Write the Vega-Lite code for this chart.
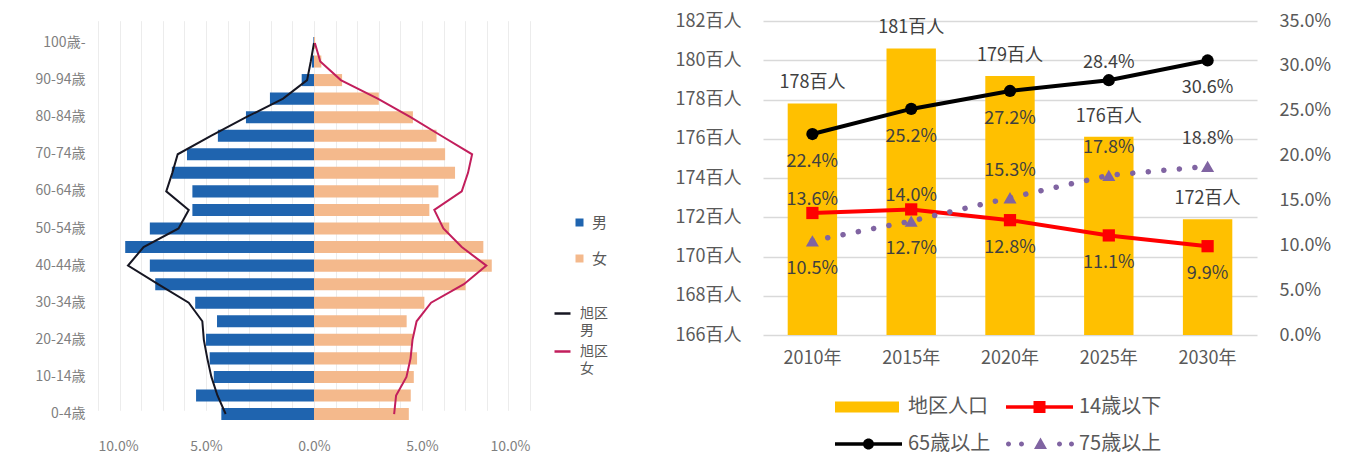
{
  "$schema": "https://vega.github.io/schema/vega-lite/v6.json",
  "background": "white",
  "padding": {"left": 35, "top": 12, "right": 5, "bottom": 5},
  "config": {
    "font": "Noto Sans CJK JP",
    "view": {"stroke": null},
    "axis": {"labelFont": "Noto Sans CJK JP", "domain": false, "ticks": false, "tickSize": 0, "title": null},
    "legend": {"labelFont": "Noto Sans CJK JP", "padding": 0},
    "text": {"font": "Noto Sans CJK JP"},
    "style": {"guide-label": {"lineHeight": 17}}
  },
  "datasets": {
    "pyramid": [
      {"age": "100歳-", "sex": "男", "value": -0.0003}, {"age": "100歳-", "sex": "女", "value": 0.0005},
      {"age": "95-99歳", "sex": "男", "value": -0.001}, {"age": "95-99歳", "sex": "女", "value": 0.0034},
      {"age": "90-94歳", "sex": "男", "value": -0.0057}, {"age": "90-94歳", "sex": "女", "value": 0.013},
      {"age": "85-89歳", "sex": "男", "value": -0.0204}, {"age": "85-89歳", "sex": "女", "value": 0.030},
      {"age": "80-84歳", "sex": "男", "value": -0.0315}, {"age": "80-84歳", "sex": "女", "value": 0.0458},
      {"age": "75-79歳", "sex": "男", "value": -0.0445}, {"age": "75-79歳", "sex": "女", "value": 0.0567},
      {"age": "70-74歳", "sex": "男", "value": -0.0588}, {"age": "70-74歳", "sex": "女", "value": 0.0607},
      {"age": "65-69歳", "sex": "男", "value": -0.0658}, {"age": "65-69歳", "sex": "女", "value": 0.0653},
      {"age": "60-64歳", "sex": "男", "value": -0.0563}, {"age": "60-64歳", "sex": "女", "value": 0.0576},
      {"age": "55-59歳", "sex": "男", "value": -0.0563}, {"age": "55-59歳", "sex": "女", "value": 0.0534},
      {"age": "50-54歳", "sex": "男", "value": -0.076}, {"age": "50-54歳", "sex": "女", "value": 0.0626},
      {"age": "45-49歳", "sex": "男", "value": -0.0874}, {"age": "45-49歳", "sex": "女", "value": 0.0784},
      {"age": "40-44歳", "sex": "男", "value": -0.076}, {"age": "40-44歳", "sex": "女", "value": 0.0823},
      {"age": "35-39歳", "sex": "男", "value": -0.0735}, {"age": "35-39歳", "sex": "女", "value": 0.0702},
      {"age": "30-34歳", "sex": "男", "value": -0.055}, {"age": "30-34歳", "sex": "女", "value": 0.0511},
      {"age": "25-29歳", "sex": "男", "value": -0.0449}, {"age": "25-29歳", "sex": "女", "value": 0.0429},
      {"age": "20-24歳", "sex": "男", "value": -0.050}, {"age": "20-24歳", "sex": "女", "value": 0.0458},
      {"age": "15-19歳", "sex": "男", "value": -0.0483}, {"age": "15-19歳", "sex": "女", "value": 0.0477},
      {"age": "10-14歳", "sex": "男", "value": -0.0464}, {"age": "10-14歳", "sex": "女", "value": 0.0462},
      {"age": "5-9歳", "sex": "男", "value": -0.0546}, {"age": "5-9歳", "sex": "女", "value": 0.0448},
      {"age": "0-4歳", "sex": "男", "value": -0.0429}, {"age": "0-4歳", "sex": "女", "value": 0.0439}
    ],
    "ward": [
      {"age": "100歳-", "sex": "旭区 男", "value": 0.0},
      {"age": "95-99歳", "sex": "旭区 男", "value": -0.0015},
      {"age": "90-94歳", "sex": "旭区 男", "value": -0.0032},
      {"age": "85-89歳", "sex": "旭区 男", "value": -0.0143},
      {"age": "80-84歳", "sex": "旭区 男", "value": -0.0314},
      {"age": "75-79歳", "sex": "旭区 男", "value": -0.0475},
      {"age": "70-74歳", "sex": "旭区 男", "value": -0.0631},
      {"age": "65-69歳", "sex": "旭区 男", "value": -0.0656},
      {"age": "60-64歳", "sex": "旭区 男", "value": -0.0684},
      {"age": "55-59歳", "sex": "旭区 男", "value": -0.058},
      {"age": "50-54歳", "sex": "旭区 男", "value": -0.0627},
      {"age": "45-49歳", "sex": "旭区 男", "value": -0.0789},
      {"age": "40-44歳", "sex": "旭区 男", "value": -0.0861},
      {"age": "35-39歳", "sex": "旭区 男", "value": -0.0722},
      {"age": "30-34歳", "sex": "旭区 男", "value": -0.058},
      {"age": "25-29歳", "sex": "旭区 男", "value": -0.0517},
      {"age": "20-24歳", "sex": "旭区 男", "value": -0.051},
      {"age": "15-19歳", "sex": "旭区 男", "value": -0.0494},
      {"age": "10-14歳", "sex": "旭区 男", "value": -0.0475},
      {"age": "5-9歳", "sex": "旭区 男", "value": -0.0447},
      {"age": "0-4歳", "sex": "旭区 男", "value": -0.0409},
      {"age": "100歳-", "sex": "旭区 女", "value": 0.0004},
      {"age": "95-99歳", "sex": "旭区 女", "value": 0.0029},
      {"age": "90-94歳", "sex": "旭区 女", "value": 0.0124},
      {"age": "85-89歳", "sex": "旭区 女", "value": 0.0295},
      {"age": "80-84歳", "sex": "旭区 女", "value": 0.0447},
      {"age": "75-79歳", "sex": "旭区 女", "value": 0.0589},
      {"age": "70-74歳", "sex": "旭区 女", "value": 0.0732},
      {"age": "65-69歳", "sex": "旭区 女", "value": 0.0713},
      {"age": "60-64歳", "sex": "旭区 女", "value": 0.0684},
      {"age": "55-59歳", "sex": "旭区 女", "value": 0.0557},
      {"age": "50-54歳", "sex": "旭区 女", "value": 0.0599},
      {"age": "45-49歳", "sex": "旭区 女", "value": 0.0684},
      {"age": "40-44歳", "sex": "旭区 女", "value": 0.0798},
      {"age": "35-39歳", "sex": "旭区 女", "value": 0.0694},
      {"age": "30-34歳", "sex": "旭区 女", "value": 0.0542},
      {"age": "25-29歳", "sex": "旭区 女", "value": 0.0475},
      {"age": "20-24歳", "sex": "旭区 女", "value": 0.0456},
      {"age": "15-19歳", "sex": "旭区 女", "value": 0.0447},
      {"age": "10-14歳", "sex": "旭区 女", "value": 0.0428},
      {"age": "5-9歳", "sex": "旭区 女", "value": 0.038},
      {"age": "0-4歳", "sex": "旭区 女", "value": 0.0371}
    ],
    "pop": [
      {"year": "2010年", "pop": 177.8},
      {"year": "2015年", "pop": 180.6},
      {"year": "2020年", "pop": 179.2},
      {"year": "2025年", "pop": 176.1},
      {"year": "2030年", "pop": 171.9}
    ],
    "rates": [
      {"year": "2010年", "series": "14歳以下", "pct": 0.136},
      {"year": "2015年", "series": "14歳以下", "pct": 0.140},
      {"year": "2020年", "series": "14歳以下", "pct": 0.128},
      {"year": "2025年", "series": "14歳以下", "pct": 0.111},
      {"year": "2030年", "series": "14歳以下", "pct": 0.099},
      {"year": "2010年", "series": "65歳以上", "pct": 0.224},
      {"year": "2015年", "series": "65歳以上", "pct": 0.252},
      {"year": "2020年", "series": "65歳以上", "pct": 0.272},
      {"year": "2025年", "series": "65歳以上", "pct": 0.284},
      {"year": "2030年", "series": "65歳以上", "pct": 0.306},
      {"year": "2010年", "series": "75歳以上", "pct": 0.105},
      {"year": "2015年", "series": "75歳以上", "pct": 0.127},
      {"year": "2020年", "series": "75歳以上", "pct": 0.153},
      {"year": "2025年", "series": "75歳以上", "pct": 0.178},
      {"year": "2030年", "series": "75歳以上", "pct": 0.188}
    ],
    "legendItems": [
      {"series": "地区人口"}, {"series": "14歳以下"}, {"series": "65歳以上"}, {"series": "75歳以上"}
    ]
  },
  "bounds": "flush",
  "spacing": 233,
  "resolve": {
    "scale": {"color": "independent", "shape": "independent", "stroke": "independent"},
    "legend": {"color": "independent", "shape": "independent", "stroke": "independent"}
  },
  "hconcat": [
    {
      "width": 432,
      "height": 402,
      "encoding": {
        "y": {
          "field": "age", "type": "nominal", "sort": null,
          "scale": {
            "domain": ["100歳-","95-99歳","90-94歳","85-89歳","80-84歳","75-79歳","70-74歳","65-69歳","60-64歳","55-59歳","50-54歳","45-49歳","40-44歳","35-39歳","30-34歳","25-29歳","20-24歳","15-19歳","10-14歳","5-9歳","0-4歳"],
            "range": [12.7, 402.3], "paddingInner": 0.35, "paddingOuter": 0.175
          },
          "axis": {
            "values": ["100歳-","90-94歳","80-84歳","70-74歳","60-64歳","50-54歳","40-44歳","30-34歳","20-24歳","10-14歳","0-4歳"],
            "grid": false, "labelFontSize": 14, "labelColor": "#7f7f7f", "labelPadding": 13
          }
        },
        "x": {
          "field": "value", "type": "quantitative",
          "scale": {"domain": [-0.1, 0.1], "nice": false},
          "axis": {
            "values": [-0.1,-0.09,-0.08,-0.07,-0.06,-0.05,-0.04,-0.03,-0.02,-0.01,0,0.01,0.02,0.03,0.04,0.05,0.06,0.07,0.08,0.09,0.1],
            "labelExpr": "round(datum.value*100) % 5 == 0 ? format(abs(datum.value), '.1%') : ''",
            "labelOverlap": false, "grid": true, "gridColor": "#ececec", "gridWidth": 1,
            "labelFontSize": 14, "labelColor": "#7f7f7f", "labelPadding": 16
          }
        }
      },
      "layer": [
        {
          "data": {"name": "pyramid"},
          "mark": {"type": "bar"},
          "encoding": {
            "color": {
              "field": "sex", "type": "nominal",
              "scale": {"domain": ["男", "女"], "range": ["#1F64AF", "#F4B98C"]},
              "legend": {
                "orient": "none", "legendX": 474, "legendY": 194, "title": null,
                "symbolType": "square", "symbolSize": 64, "labelOffset": 5,
                "labelFontSize": 15, "labelColor": "#595959", "rowPadding": 20
              }
            }
          }
        },
        {
          "data": {"name": "ward"},
          "mark": {"type": "line", "strokeWidth": 2},
          "encoding": {
            "order": {"value": null},
            "stroke": {
              "field": "sex", "type": "nominal",
              "scale": {"domain": ["旭区 男", "旭区 女"], "range": ["#161622", "#C21E5C"]},
              "legend": {
                "orient": "none", "legendX": 455, "legendY": 283, "title": null,
                "symbolType": "stroke", "symbolSize": 256, "symbolStrokeWidth": 2.5,
                "labelOffset": 8, "labelFontSize": 14, "labelColor": "#595959", "rowPadding": 4,
                "labelBaseline": "middle",
                "labelExpr": "[slice(datum.label, 0, 2), slice(datum.label, 3)]"
              }
            }
          }
        }
      ]
    },
    {
      "width": 494,
      "height": 314,
      "resolve": {"scale": {"y": "independent"}},
      "layer": [
        {
          "data": {"name": "pop"},
          "encoding": {
            "x": {
              "field": "year", "type": "nominal", "sort": null,
              "scale": {"paddingInner": 0.5, "paddingOuter": 0.25},
              "axis": {"labelAngle": 0, "labelFontSize": 18, "labelColor": "#595959", "labelPadding": 14, "grid": false}
            },
            "y": {
              "field": "pop", "type": "quantitative",
              "scale": {"domain": [166, 182], "zero": false, "nice": false},
              "axis": {
                "orient": "left", "values": [166,168,170,172,174,176,178,180,182],
                "labelExpr": "datum.value + '百人'", "grid": true, "gridColor": "#d9d9d9", "gridWidth": 1.5,
                "labelFontSize": 18, "labelColor": "#595959", "labelPadding": 22
              }
            }
          },
          "layer": [
            {"mark": {"type": "bar", "color": "#FFC000", "clip": true}},
            {
              "transform": [{"calculate": "format(datum.pop, '.0f') + '百人'", "as": "label"}],
              "mark": {"type": "text", "dy": -20, "baseline": "middle", "fontSize": 18, "color": "#404040"},
              "encoding": {"text": {"field": "label"}}
            }
          ]
        },
        {
          "data": {"name": "rates"},
          "encoding": {
            "x": {"field": "year", "type": "nominal", "sort": null},
            "y": {
              "field": "pct", "type": "quantitative",
              "scale": {"domain": [0, 0.35], "nice": false},
              "axis": {
                "orient": "right", "values": [0,0.05,0.1,0.15,0.2,0.25,0.3,0.35], "format": ".1%", "grid": false,
                "labelFontSize": 18, "labelColor": "#595959", "labelPadding": 22
              }
            }
          },
          "layer": [
            {"transform": [{"filter": "datum.series == '14歳以下'"}], "mark": {"type": "line", "color": "#FF0000", "strokeWidth": 4}},
            {"transform": [{"filter": "datum.series == '14歳以下'"}], "mark": {"type": "square", "color": "#FF0000", "size": 150, "opacity": 1}},
            {"transform": [{"filter": "datum.series == '65歳以上'"}], "mark": {"type": "line", "color": "#000000", "strokeWidth": 4}},
            {"transform": [{"filter": "datum.series == '65歳以上'"}], "mark": {"type": "circle", "color": "#000000", "size": 150, "opacity": 1}},
            {"transform": [{"filter": "datum.series == '75歳以上'"}], "mark": {"type": "line", "color": "#8064A2", "strokeWidth": 5.5, "strokeDash": [0.1, 15.5], "strokeCap": "round"}},
            {"transform": [{"filter": "datum.series == '75歳以上'"}], "mark": {"type": "point", "shape": "triangle-up", "filled": true, "color": "#8064A2", "size": 170, "opacity": 1}},
            {
              "transform": [{"filter": "(datum.series == '65歳以上' && datum.year != '2025年') || (datum.series == '14歳以下' && (datum.year == '2020年' || datum.year == '2025年' || datum.year == '2030年')) || (datum.series == '75歳以上' && (datum.year == '2010年' || datum.year == '2015年'))"}],
              "mark": {"type": "text", "dy": 28, "baseline": "middle", "fontSize": 18, "color": "#404040"},
              "encoding": {"text": {"field": "pct", "format": ".1%"}}
            },
            {
              "transform": [{"filter": "datum.series == '14歳以下' && (datum.year == '2010年' || datum.year == '2015年')"}],
              "mark": {"type": "text", "dy": -13, "baseline": "middle", "fontSize": 18, "color": "#404040"},
              "encoding": {"text": {"field": "pct", "format": ".1%"}}
            },
            {
              "transform": [{"filter": "datum.series == '65歳以上' && datum.year == '2025年'"}],
              "mark": {"type": "text", "dy": -17, "baseline": "middle", "fontSize": 18, "color": "#404040"},
              "encoding": {"text": {"field": "pct", "format": ".1%"}}
            },
            {
              "transform": [{"filter": "datum.series == '75歳以上' && (datum.year == '2020年' || datum.year == '2025年' || datum.year == '2030年')"}],
              "mark": {"type": "text", "dy": -27, "baseline": "middle", "fontSize": 18, "color": "#404040"},
              "encoding": {"text": {"field": "pct", "format": ".1%"}}
            },
            {
              "data": {"name": "legendItems"},
              "mark": {"type": "point", "filled": true, "clip": true, "opacity": 1},
              "encoding": {
                "x": {"datum": "2010年"},
                "y": {"datum": -1},
                "color": {
                  "field": "series", "type": "nominal",
                  "scale": {"domain": ["地区人口", "14歳以下", "65歳以上", "75歳以上"], "range": ["#FFC000", "#FF0000", "#000000", "#8064A2"]},
                  "legend": {
                    "orient": "none", "legendX": 72, "legendY": 376, "title": null, "columns": 2, "direction": "horizontal",
                    "symbolSize": 400, "labelOffset": 53, "labelFontSize": 20, "labelColor": "#595959",
                    "columnPadding": 15, "rowPadding": 17, "symbolStrokeWidth": 0, "symbolOpacity": 1
                  }
                },
                "shape": {
                  "field": "series", "type": "nominal",
                  "scale": {
                    "domain": ["地区人口", "14歳以下", "65歳以上", "75歳以上"],
                    "range": [
                      "M-1,-0.55H5.4V0.55H-1Z",
                      "M-1,-0.18H5.7V0.18H-1Z M1.75,-0.6H2.95V0.6H1.75Z",
                      "M-1,-0.18H5.7V0.18H-1Z M1.8,0A0.55,0.55 0 1,1 2.9,0A0.55,0.55 0 1,1 1.8,0Z",
                      "M-1,0A0.25,0.25 0 1,1 -0.5,0A0.25,0.25 0 1,1 -1,0Z M0.3,0A0.25,0.25 0 1,1 0.8,0A0.25,0.25 0 1,1 0.3,0Z M1.8,0.5L2.45,-0.65L3.1,0.5Z M4.1,0A0.25,0.25 0 1,1 4.6,0A0.25,0.25 0 1,1 4.1,0Z M5.3,0A0.25,0.25 0 1,1 5.8,0A0.25,0.25 0 1,1 5.3,0Z"
                    ]
                  },
                  "legend": {
                    "orient": "none", "legendX": 72, "legendY": 376, "title": null, "columns": 2, "direction": "horizontal",
                    "symbolSize": 400, "labelOffset": 53, "labelFontSize": 20, "labelColor": "#595959",
                    "columnPadding": 15, "rowPadding": 17, "symbolStrokeWidth": 0, "symbolOpacity": 1
                  }
                }
              }
            }
          ]
        }
      ]
    }
  ]
}
